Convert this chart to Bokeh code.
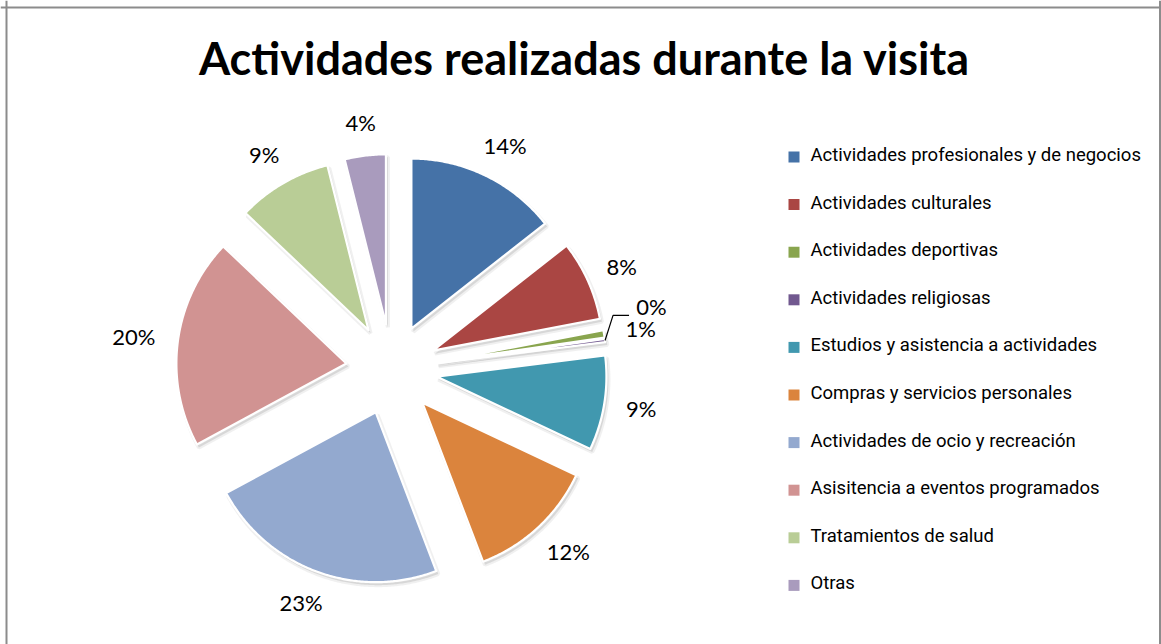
import math
import numpy as np
from bokeh.plotting import figure
from bokeh.models import Range1d, Span
from bokeh.core.properties import value
from bokeh.embed import file_html
from bokeh.resources import INLINE

# ---------------- data ----------------
title = "Actividades realizadas durante la visita"
categories = [
    "Actividades profesionales y de negocios",
    "Actividades culturales",
    "Actividades deportivas",
    "Actividades religiosas",
    "Estudios y asistencia a actividades",
    "Compras y servicios personales",
    "Actividades de ocio y recreación",
    "Asisitencia a eventos programados",
    "Tratamientos de salud",
    "Otras",
]
shares = [14.4, 7.6, 0.7, 0.3, 9.0, 12.2, 22.9, 20.0, 9.0, 3.9]
colors = ["#4572A7", "#AA4643", "#89A54E", "#71588F", "#4198AF",
          "#DB843D", "#93A9CF", "#D19392", "#B9CD96", "#A99BBD"]
pct_labels = [f"{round(s)}%" for s in shares]

# ---------------- layout (style) ----------------
W, H = 1161, 644
CX, CY = 391.0, 369.0      # pie centre (px, y down)
R = 170.0                  # radius
D = 45.5                   # explosion offset
LABEL_FONT = value("Lato")
LEGEND_FONT = value("Roboto")

p = figure(width=W, height=H, x_range=Range1d(0, W), y_range=Range1d(H, 0),
           output_backend="svg", toolbar_location=None, min_border=0,
           x_axis_location=None, y_axis_location=None)
p.grid.visible = False
p.outline_line_color = None
p.background_fill_color = "white"
p.border_fill_color = "white"

# chart border (top, left, right)
p.add_layout(Span(location=6, dimension="height", line_color="#8c8c8c", line_width=2))
p.add_layout(Span(location=1159.5, dimension="height", line_color="#8c8c8c", line_width=2))
p.add_layout(Span(location=7, dimension="width", line_color="#8c8c8c", line_width=2))

# ---------------- slices ----------------
total = sum(shares)
xs, ys, sxs, sys_ = [], [], [], []
mids = []
acc = 0.0
for s in shares:
    a0 = acc / total * 2 * math.pi
    a1 = (acc + s) / total * 2 * math.pi
    acc += s
    m = (a0 + a1) / 2
    mids.append(m)
    ox, oy = CX + D * math.sin(m), CY - D * math.cos(m)
    n = max(3, int(math.degrees(a1 - a0) * 2))
    th = np.linspace(a0, a1, n)
    px = [ox] + list(ox + R * np.sin(th))
    py = [oy] + list(oy - R * np.cos(th))
    xs.append(px); ys.append(py)
    sxs.append([v + 2 for v in px]); sys_.append([v + 3 for v in py])

p.patches(sxs, sys_, fill_color="#808080", fill_alpha=0.22,
          line_color="#808080", line_alpha=0.12, line_width=4)
p.patches(xs, ys, fill_color=colors, line_color="white", line_width=2.2,
          line_join="round")

# ---------------- data labels ----------------
GAP, LH, CW = 23.0, 20.0, 14.3
placed = []
lab_x, lab_y = [], []
for m, lab in zip(mids, pct_labels):
    dx, dy = math.sin(m), -math.cos(m)
    w = len(lab) * CW
    r = D + R + GAP
    lx = CX + r * dx + dx * w / 2
    ly = CY + r * dy + dy * LH / 2
    if placed:
        qx, qy, qw = placed[-1]
        if abs(ly - qy) < LH and abs(lx - qx) < (w + qw) / 2:
            ax, ay = CX + (D + R) * dx, CY + (D + R) * dy
            ly = qy - LH - 2
            lx = ax + 32 + w / 2
            p.line([ax, ax + 8, ax + 24], [ay, ly + 9, ly + 9],
                   line_color="black", line_width=1.2)
    placed.append((lx, ly, w))
    lab_x.append(lx); lab_y.append(ly)

p.text(x=lab_x, y=lab_y, text=pct_labels, text_font=LABEL_FONT,
       text_font_size="22px", text_color="black", text_align="center",
       text_baseline="middle")

# ---------------- title ----------------
p.text(x=[584], y=[57], text=[title], text_font=LABEL_FONT,
       text_font_style="bold", text_font_size="45px", text_color="black",
       text_align="center", text_baseline="middle")

# ---------------- legend ----------------
LEG_X, LEG_Y0, LEG_DY = 793.5, 156.5, 47.6
leg_y = [LEG_Y0 + i * LEG_DY for i in range(len(categories))]
p.scatter(x=[LEG_X] * len(categories), y=leg_y, marker="square",
          size=11, fill_color=colors, line_color=None)
p.text(x=[LEG_X + 16.5] * len(categories), y=[v - 2 for v in leg_y], text=categories,
       text_font=LEGEND_FONT, text_font_size="18.5px", text_color="black",
       text_align="left", text_baseline="middle")

open("out.html", "w").write(file_html(p, INLINE))
